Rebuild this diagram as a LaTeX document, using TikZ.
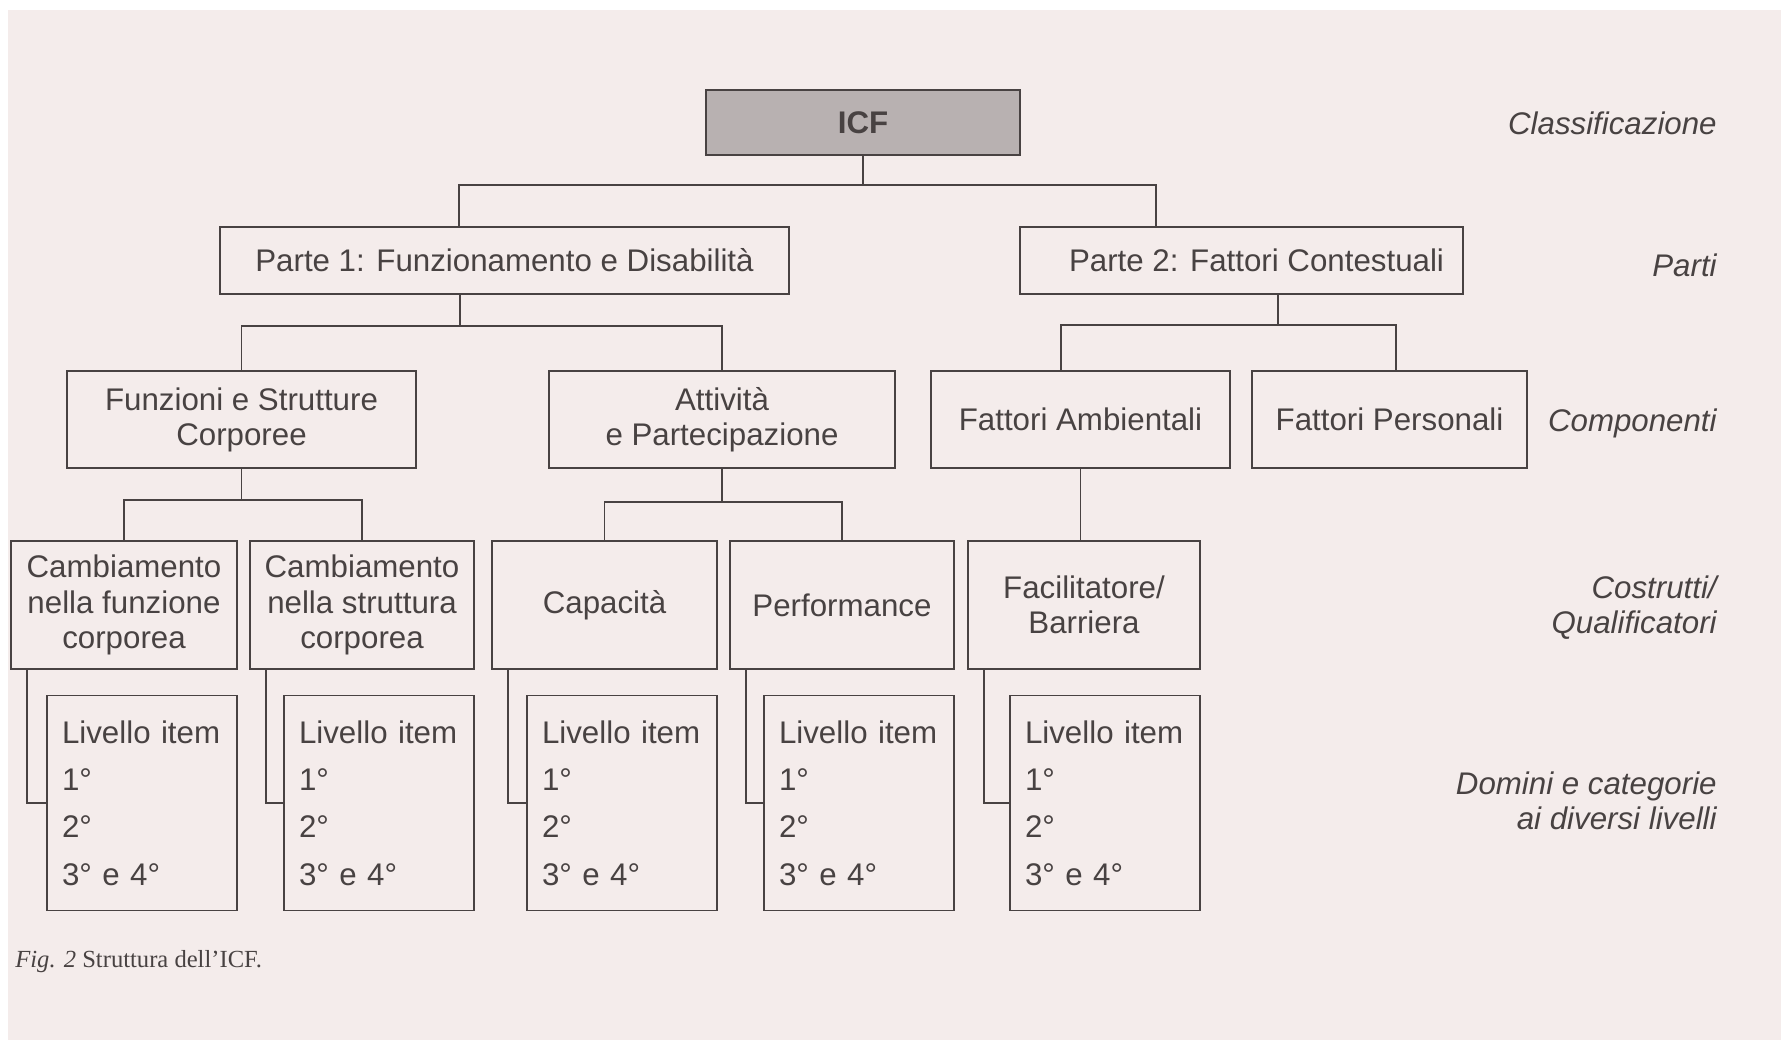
\documentclass[tikz,border=0pt]{standalone}
\usepackage{fontspec}
\setmainfont{Liberation Sans}
\newfontfamily\serifcap{Liberation Serif}
\usetikzlibrary{positioning}
\definecolor{paper}{RGB}{244,236,235}
\definecolor{ink}{RGB}{72,66,66}
\definecolor{icfgray}{RGB}{184,177,177}

\begin{document}
\begin{tikzpicture}[x=0.02cm, y=-0.02cm,
  box/.style={rectangle, draw=ink, line width=0.9pt, text=ink, align=center, inner sep=0pt, font=\fontsize{17.8}{20}\selectfont},
  itembox/.style={box, minimum height=4.3cm, text width=3.2cm, inner xsep=0.3cm, align=left, font=\fontsize{17.8}{27}\selectfont},
  side/.style={anchor=east, align=right, inner sep=0pt, text=ink, font=\fontsize{17.8}{20}\selectfont\itshape},
  link/.style={draw=ink, line width=0.9pt}]

\useasboundingbox[fill=white] (0,0) rectangle (1781,1044);
\fill[paper] (8,10) rectangle (1781,1040);

\node[box, fill=icfgray, minimum width=6.28cm, minimum height=1.3cm, font=\fontsize{17.8}{20}\selectfont\bfseries] (icf) at (863,122.5) {ICF};

\node[box, minimum width=11.38cm, minimum height=1.34cm] (p1) at (504.5,260.5) {Parte 1: Funzionamento e Disabilità};

\node[box, minimum width=8.86cm, minimum height=1.34cm] (p2) at (1241.5,260.5) {\hspace*{0.6cm}Parte 2: Fattori Contestuali};

\node[box, minimum width=6.98cm, minimum height=1.94cm] (fsc) at (241.5,419.5) {Funzioni e Strutture\\Corporee};

\node[box, minimum width=6.92cm, minimum height=1.94cm] (ap) at (722,419.5) {Attività\\e Partecipazione};

\node[box, minimum width=5.98cm, minimum height=1.94cm] (fa) at (1080.5,419.5) {Fattori Ambientali};

\node[box, minimum width=5.5cm, minimum height=1.94cm] (fp) at (1389.5,419.5) {Fattori Personali};

\node[box, minimum width=4.52cm, minimum height=2.56cm] (c1) at (124,605) {Cambiamento\\nella funzione\\corporea};

\node[box, minimum width=4.48cm, minimum height=2.56cm] (c2) at (362,605) {Cambiamento\\nella struttura\\corporea};

\node[box, minimum width=4.5cm, minimum height=2.56cm] (c3) at (604.5,605) {Capacità};

\node[box, minimum width=4.48cm, minimum height=2.56cm] (c4) at (842,605) {Performance};

\node[box, minimum width=4.64cm, minimum height=2.56cm] (c5) at (1084,605) {Facilitatore/\\Barriera};

\foreach \i in {1,...,5}
  \node[itembox, below=0.5cm of c\i.south east, anchor=north east] (l\i) {Livello item\\1°\\2°\\3° e 4°};

\coordinate (t1) at (459,185);
\coordinate (t2) at (1156,185);
\draw[link] (icf.south) |- (t1) -- (t1 |- p1.north);
\draw[link] (icf.south) |- (t2) -- (t2 |- p2.north);

\coordinate (b1) at (460,326);
\draw[link] (b1 |- p1.south) -- (b1);
\draw[link] (fsc.north) |- (b1) -| (ap.north);

\coordinate (b2) at (1278,325);
\coordinate (b2l) at (1061,325);
\coordinate (b2r) at (1396,325);
\draw[link] (b2 |- p2.south) -- (b2);
\draw[link] (b2l |- fa.north) -- (b2l) -- (b2r) -- (b2r |- fp.north);

\coordinate (b3) at ([yshift=-0.62cm]fsc.south);
\coordinate (b4) at ([yshift=-0.66cm]ap.south);
\draw[link] (fsc.south) -- (b3);
\draw[link] (c1.north) |- (b3) -| (c2.north);
\draw[link] (ap.south) -- (b4);
\draw[link] (c3.north) |- (b4) -| (c4.north);
\draw[link] (fa.south) -- (fa.south |- c5.north);

\foreach \i in {1,...,5}
  \draw[link] ([xshift=0.34cm]c\i.south west) |- (l\i.west);

\node[side] (lclass) at (1717,123) {Classificazione};
\node[side] (lparti) at (1717,265) {Parti};
\node[side] (lcomp) at (1717,423) {Componenti};
\node[side] (lcostr) at (1717,608) {Costrutti/\\Qualificatori};
\node[side] (ldomini) at (1717,801) {Domini e categorie\\ai diversi livelli};

\node[anchor=west, inner sep=0pt, text=ink, font=\serifcap\fontsize{14}{16}\selectfont] (caption) at (15,962) {\textit{Fig. 2} Struttura dell’ICF.};

\end{tikzpicture}
\end{document}
